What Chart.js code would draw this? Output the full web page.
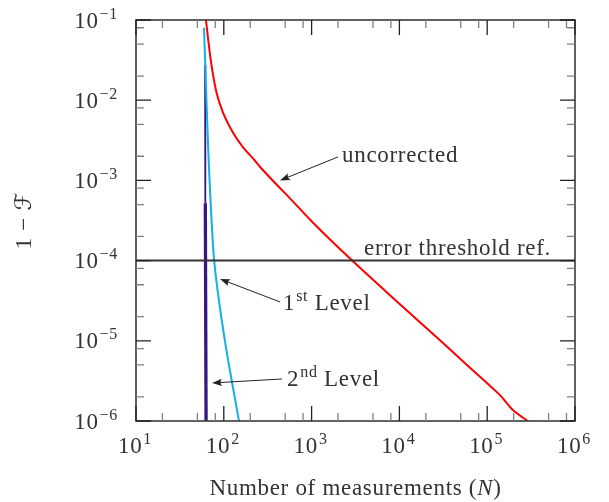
<!DOCTYPE html>
<html><head><meta charset="utf-8">
<script src="https://cdn.jsdelivr.net/npm/chart.js@4.4.0/dist/chart.umd.min.js"></script>
<style>html,body{margin:0;padding:0;background:#fff}#wrap{width:609px;height:502px}</style>
</head><body><div id="wrap"><canvas id="c" width="609" height="502"></canvas></div>
<script>
// ---------------- data ----------------
const uncorrectedN = [62.7, 66.5, 72.9, 83, 98.5, 128, 165, 216, 258, 363, 600, 1000, 2900, 10000, 28800, 60000, 100000, 140000, 195000, 290000];
const uncorrectedF = [0.1, 0.056, 0.026, 0.0122, 0.0069, 0.0039, 0.0026, 0.00187, 0.00148, 0.00099, 0.00056, 0.00031, 0.0001, 0.000029, 0.0000102, 0.0000049, 0.00000295, 0.0000021, 0.00000138, 0.000001];
const level1N = [59.5, 63.5, 66.5, 76, 81, 103, 123, 149];
const level1F = [0.08, 0.01, 0.0024, 0.000135, 0.000065, 0.00001, 0.0000032, 0.000001];
const level2N = [61.2, 61.6, 62.8];
const level2F = [0.0275, 0.00052, 0.000001];
const thresholdN = [10, 1000000];
const thresholdF = [0.0001, 0.0001];
const xTickExponents = [1, 2, 3, 4, 5, 6];
const yTickExponents = [-1, -2, -3, -4, -5, -6];
const minorMultipliers = [2, 5, 8];
const xTitleParts = [['Number of measurements ('], ['N', 'italic'], [')']];
const yTitle = '1 − ℱ';
const labelUncorrected = [['uncorrected']];
const labelThreshold = [['error threshold ref.']];
const labelLevel1 = [['1'], ['st', 'sup'], [' Level']];
const labelLevel2 = [['2'], ['nd', 'sup'], [' Level']];

// ---------------- styling / layout ----------------
const FONT_FAMILY = '"Liberation Serif", "DejaVu Serif", "DejaVu Sans", serif';
const MAIN_SIZE = 23, SUP_SIZE = 16, SUP_RAISE = 9;
const TEXT_COLOR = '#333';

const annotations = [
  {parts: labelUncorrected, at: [2218, 1.69e-3], align: 'left', from: [1995, 1.96e-3], to: [437, 1.0e-3]},
  {parts: labelThreshold, at: [45900, 1.17e-4], align: 'center'},
  {parts: labelLevel1, at: [472, 2.42e-5], align: 'left', from: [437, 3.05e-5], to: [90.6, 5.9e-5]},
  {parts: labelLevel2, at: [525, 2.73e-6], align: 'left', from: [460, 3.34e-6], to: [73.4, 2.98e-6]}
];

function pts(xs, ys) { return xs.map((v, i) => ({x: v, y: ys[i]})); }

function setFont(ctx, kind) {
  if (kind === 'sup') ctx.font = SUP_SIZE + 'px ' + FONT_FAMILY;
  else if (kind === 'italic') ctx.font = 'italic ' + MAIN_SIZE + 'px ' + FONT_FAMILY;
  else ctx.font = MAIN_SIZE + 'px ' + FONT_FAMILY;
}
function richWidth(ctx, parts) {
  let w = 0;
  for (const p of parts) { setFont(ctx, p[1]); w += ctx.measureText(p[0]).width + (p[1] === 'sup' ? 1 : 0); }
  return w;
}
function drawRich(ctx, parts, x, baseline, align) {
  const w = richWidth(ctx, parts);
  let cx = align === 'center' ? x - w / 2 : (align === 'right' ? x - w : x);
  ctx.textAlign = 'left';
  ctx.textBaseline = 'alphabetic';
  for (const p of parts) {
    setFont(ctx, p[1]);
    const by = p[1] === 'sup' ? baseline - SUP_RAISE : baseline;
    if (p[1] === 'sup') cx += 1;
    ctx.fillText(p[0], cx, by);
    cx += ctx.measureText(p[0]).width;
  }
}
function powParts(exp) {
  return [['10'], [(exp < 0 ? '−' : '') + Math.abs(exp), 'sup']];
}
function arrow(ctx, x1, y1, x2, y2) {
  const ang = Math.atan2(y2 - y1, x2 - x1);
  const L = 10, W = 3.6;
  ctx.beginPath();
  ctx.moveTo(x1, y1);
  ctx.lineTo(x2 - Math.cos(ang) * (L - 3), y2 - Math.sin(ang) * (L - 3));
  ctx.stroke();
  ctx.save();
  ctx.translate(x2, y2);
  ctx.rotate(ang);
  ctx.beginPath();
  ctx.moveTo(0, 0);
  ctx.lineTo(-L, -W);
  ctx.quadraticCurveTo(-L + 3, 0, -L, W);
  ctx.closePath();
  ctx.fill();
  ctx.restore();
}

const decorations = {
  id: 'decorations',
  afterDatasetsDraw(chart) {
    const {ctx, chartArea: a, scales: {x, y}} = chart;
    ctx.save();
    try { ctx.letterSpacing = '0.7px'; } catch (e) {}
    // frame
    ctx.strokeStyle = '#3a3a3a';
    ctx.lineWidth = 1.6;
    ctx.strokeRect(a.left, a.top, a.right - a.left, a.bottom - a.top);
    // ticks
    const MAJ = 15, MIN = 8;
    function xTick(v, len, col) {
      const X = x.getPixelForValue(v);
      ctx.strokeStyle = col;
      ctx.beginPath();
      ctx.moveTo(X, a.bottom); ctx.lineTo(X, a.bottom - len);
      ctx.moveTo(X, a.top); ctx.lineTo(X, a.top + len);
      ctx.stroke();
    }
    function yTick(v, len, col) {
      const Y = y.getPixelForValue(v);
      ctx.strokeStyle = col;
      ctx.beginPath();
      ctx.moveTo(a.left, Y); ctx.lineTo(a.left + len, Y);
      ctx.moveTo(a.right, Y); ctx.lineTo(a.right - len, Y);
      ctx.stroke();
    }
    ctx.lineWidth = 1.3;
    xTickExponents.forEach((e, i) => {
      if (i < xTickExponents.length - 1) minorMultipliers.forEach(m => xTick(m * Math.pow(10, e), MIN, '#808080'));
    });
    yTickExponents.forEach((e, i) => {
      if (i < yTickExponents.length - 1) minorMultipliers.forEach(m => yTick(m * Math.pow(10, e - 1), MIN, '#808080'));
    });
    xTickExponents.forEach(e => xTick(Math.pow(10, e), MAJ, '#222'));
    yTickExponents.forEach(e => yTick(Math.pow(10, e), MAJ, '#222'));

    // tick labels
    ctx.fillStyle = TEXT_COLOR;
    xTickExponents.forEach(e => {
      const X = x.getPixelForValue(Math.pow(10, e));
      drawRich(ctx, powParts(e), X - 1, a.bottom + 32, 'center');
    });
    yTickExponents.forEach(e => {
      const Y = y.getPixelForValue(Math.pow(10, e));
      drawRich(ctx, powParts(e), a.left - 18, Y + 7.5, 'right');
    });
    // axis titles
    drawRich(ctx, xTitleParts, (a.left + a.right) / 2, a.bottom + 74, 'center');
    ctx.save();
    ctx.translate(a.left - 111, (a.top + a.bottom) / 2);
    ctx.rotate(-Math.PI / 2);
    setFont(ctx, null);
    ctx.textAlign = 'center';
    ctx.textBaseline = 'middle';
    ctx.fillText(yTitle, 0, 0);
    ctx.restore();

    // annotations
    ctx.strokeStyle = '#222';
    ctx.fillStyle = '#222';
    ctx.lineWidth = 1;
    annotations.forEach(an => {
      if (an.from) {
        arrow(ctx, x.getPixelForValue(an.from[0]), y.getPixelForValue(an.from[1]),
              x.getPixelForValue(an.to[0]), y.getPixelForValue(an.to[1]));
      }
    });
    ctx.fillStyle = TEXT_COLOR;
    annotations.forEach(an => {
      drawRich(ctx, an.parts, x.getPixelForValue(an.at[0]), y.getPixelForValue(an.at[1]), an.align);
    });
    ctx.restore();
  }
};

new Chart(document.getElementById('c'), {
  type: 'line',
  data: {
    datasets: [
      {label: 'error threshold ref.', data: pts(thresholdN, thresholdF), borderColor: '#333', borderWidth: 2, pointRadius: 0, tension: 0},
      {label: 'uncorrected', data: pts(uncorrectedN, uncorrectedF), borderColor: '#ff0000', borderWidth: 2, pointRadius: 0, cubicInterpolationMode: 'monotone'},
      {label: '1st Level', data: pts(level1N, level1F), borderColor: '#14aeea', borderWidth: 2, pointRadius: 0, cubicInterpolationMode: 'monotone'},
      {label: '2nd Level', data: pts(level2N, level2F), borderColor: '#37177a', borderWidth: 2.5, pointRadius: 0, tension: 0,
       segment: {borderWidth: c => (c.p0DataIndex === 0 ? 1.8 : 3.3)}}
    ]
  },
  options: {
    responsive: false,
    animation: false,
    devicePixelRatio: 1,
    layout: {padding: {left: 136, right: 34, top: 20, bottom: 81}},
    plugins: {legend: {display: false}, tooltip: {enabled: false}},
    scales: {
      x: {type: 'logarithmic', min: 10, max: 1000000, display: false},
      y: {type: 'logarithmic', min: 0.000001, max: 0.1, display: false}
    }
  },
  plugins: [decorations]
});
</script>
</body></html>
